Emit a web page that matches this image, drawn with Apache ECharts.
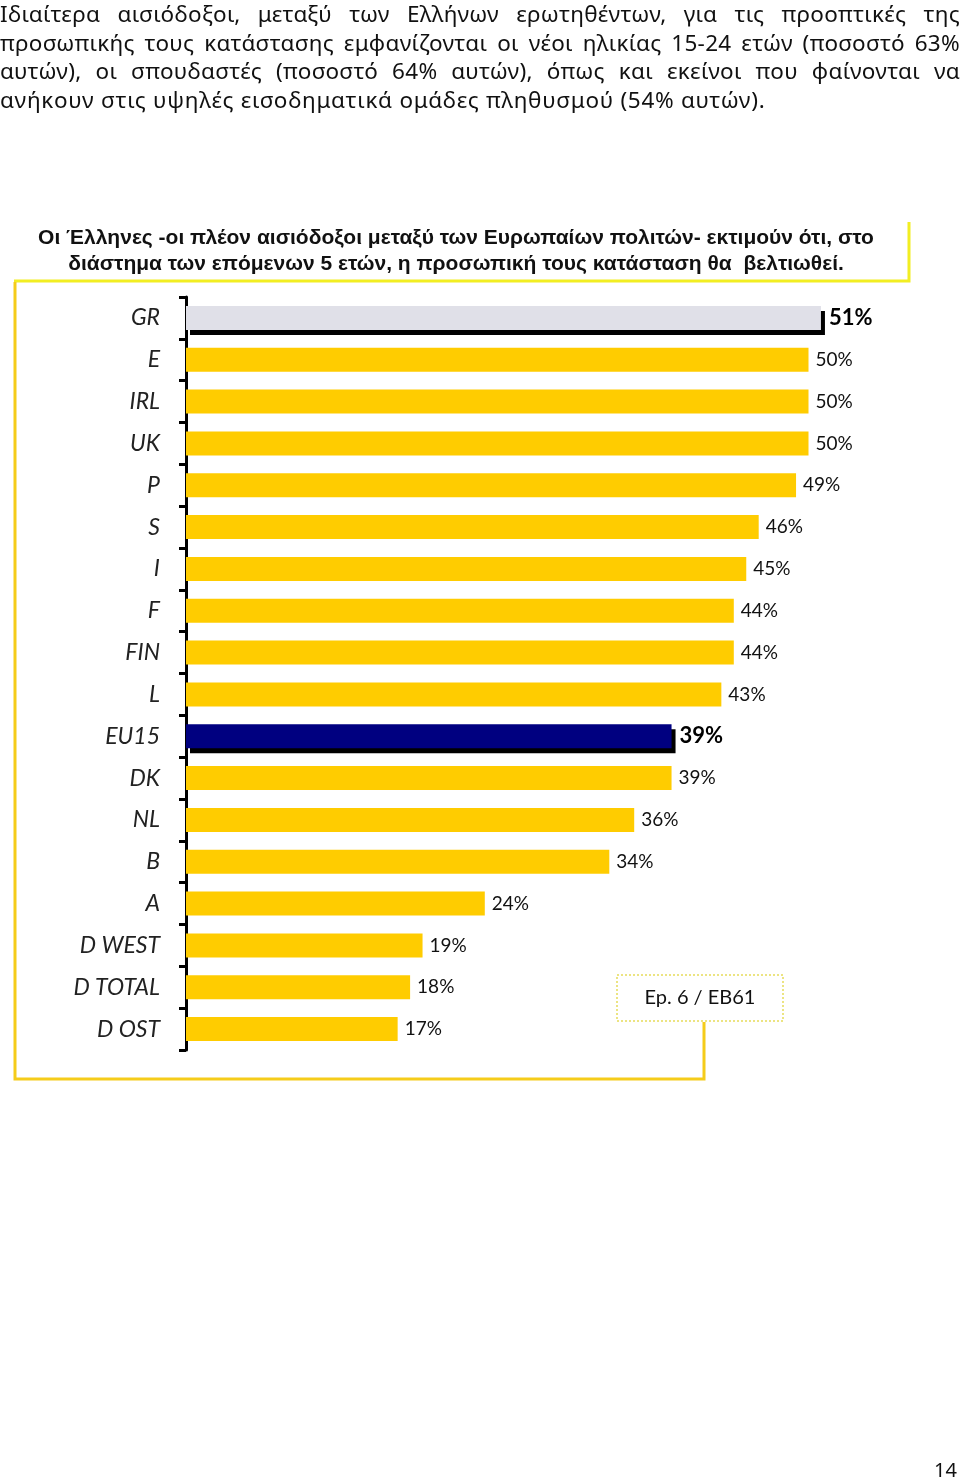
<!DOCTYPE html>
<html>
<head>
<meta charset="utf-8">
<script src="https://cdn.jsdelivr.net/npm/echarts@6/dist/echarts.min.js"></script>
<style>
  html, body { margin: 0; padding: 0; background: #fff; }
  #wrap { position: relative; width: 960px; height: 1481px; overflow: hidden; }
  #chart { position: absolute; left: 0; top: 0; width: 960px; height: 1481px; }
  #para { position: absolute; left: 0; top: 0; width: 960px; font-family: "Noto Sans", "DejaVu Sans", sans-serif; font-size: 22.5px; letter-spacing: 0.3px; line-height: 28.5px; color: #111; z-index: 2; }
  #para div { white-space: nowrap; }
  #para .j { text-align: justify; text-align-last: justify; }
  #para .l { letter-spacing: 0.7px; }
  #page { position: absolute; left: 934px; top: 1456px; font-family: "Noto Sans", sans-serif; font-size: 20px; color: #111; z-index: 2; }
</style>
</head>
<body>
<div id="wrap">
  <div id="chart"></div>
  <div id="para">
    <div class="j">Ιδιαίτερα αισιόδοξοι, μεταξύ των Ελλήνων ερωτηθέντων, για τις προοπτικές της</div>
    <div class="j">προσωπικής τους κατάστασης εμφανίζονται οι νέοι ηλικίας 15-24 ετών (ποσοστό 63%</div>
    <div class="j">αυτών), οι σπουδαστές (ποσοστό 64% αυτών), όπως και εκείνοι που φαίνονται να</div>
    <div class="l">ανήκουν στις υψηλές εισοδηματικά ομάδες πληθυσμού (54% αυτών).</div>
  </div>
  <div id="page">14</div>
</div>
<script>
const categories = ['GR','E','IRL','UK','P','S','I','F','FIN','L','EU15','DK','NL','B','A','D WEST','D TOTAL','D OST'];
const values = [51,50,50,50,49,46,45,44,44,43,39,39,36,34,24,19,18,17];
const highlightColors = { 'GR': '#e0e0e8', 'EU15': '#000080' };
const titleLines = ['Οι Έλληνες -οι πλέον αισιόδοξοι μεταξύ των Ευρωπαίων πολιτών- εκτιμούν ότι, στο', 'διάστημα των επόμενων 5 ετών, η προσωπική τους κατάσταση θα  βελτιωθεί.'];
const sourceText = 'Ep. 6 / EB61';

const chart = echarts.init(document.getElementById('chart'), null, { renderer: 'canvas' });

const barData = values.map((v, i) => {
  const c = categories[i];
  if (highlightColors[c]) {
    return {
      value: v,
      itemStyle: { color: highlightColors[c], shadowColor: '#000', shadowBlur: 0, shadowOffsetX: 4, shadowOffsetY: 5 },
      label: { fontWeight: 'bold', fontSize: 22, color: '#000', distance: 8 }
    };
  }
  return { value: v };
});

const labelFont = 'Lato, "Noto Sans", sans-serif';

chart.setOption({
  animation: false,
  grid: { left: 186, top: 297, width: 747, height: 753, containLabel: false },
  xAxis: { type: 'value', min: 0, max: 60, show: false },
  yAxis: {
    type: 'category', data: categories, inverse: true, offset: 4,
    axisLine: { show: true, lineStyle: { color: '#000', width: 3 } },
    axisTick: { show: true, length: 7, lineStyle: { color: '#000', width: 3 } },
    axisLabel: { margin: 22, fontSize: 23, fontStyle: 'italic', color: '#222', fontFamily: labelFont },
    splitLine: { show: false }
  },
  series: [{
    type: 'bar', data: barData, barWidth: 24,
    itemStyle: { color: '#ffcc00' },
    label: { show: true, position: 'right', distance: 7, formatter: '{c}%', fontSize: 19, color: '#111', fontFamily: labelFont }
  }],
  graphic: [
    { type: 'polyline', silent: true, shape: { points: [[14, 281], [909, 281], [909, 222]] }, style: { stroke: '#f2ee22', lineWidth: 3, fill: null } },
    { type: 'polyline', silent: true, shape: { points: [[15, 282], [15, 1079], [704, 1079], [704, 1022]] }, style: { stroke: '#f5cc1a', lineWidth: 3, fill: null } },
    { type: 'text', silent: true, x: 456, y: 225, scaleX: 1.0, style: { text: titleLines.join('\n'), textAlign: 'center', font: 'bold 21px "Liberation Sans", sans-serif', lineHeight: 26, fill: '#111' } },
    { type: 'rect', silent: true, shape: { x: 617, y: 975, width: 166, height: 46 }, style: { fill: '#fff', stroke: '#e6dc5a', lineWidth: 1.5, lineDash: [2, 2] } },
    { type: 'text', silent: true, style: { x: 700, y: 998, text: sourceText, textAlign: 'center', textVerticalAlign: 'middle', font: '20px Lato, "Noto Sans", sans-serif', fill: '#111' } }
  ]
});
</script>
</body>
</html>
